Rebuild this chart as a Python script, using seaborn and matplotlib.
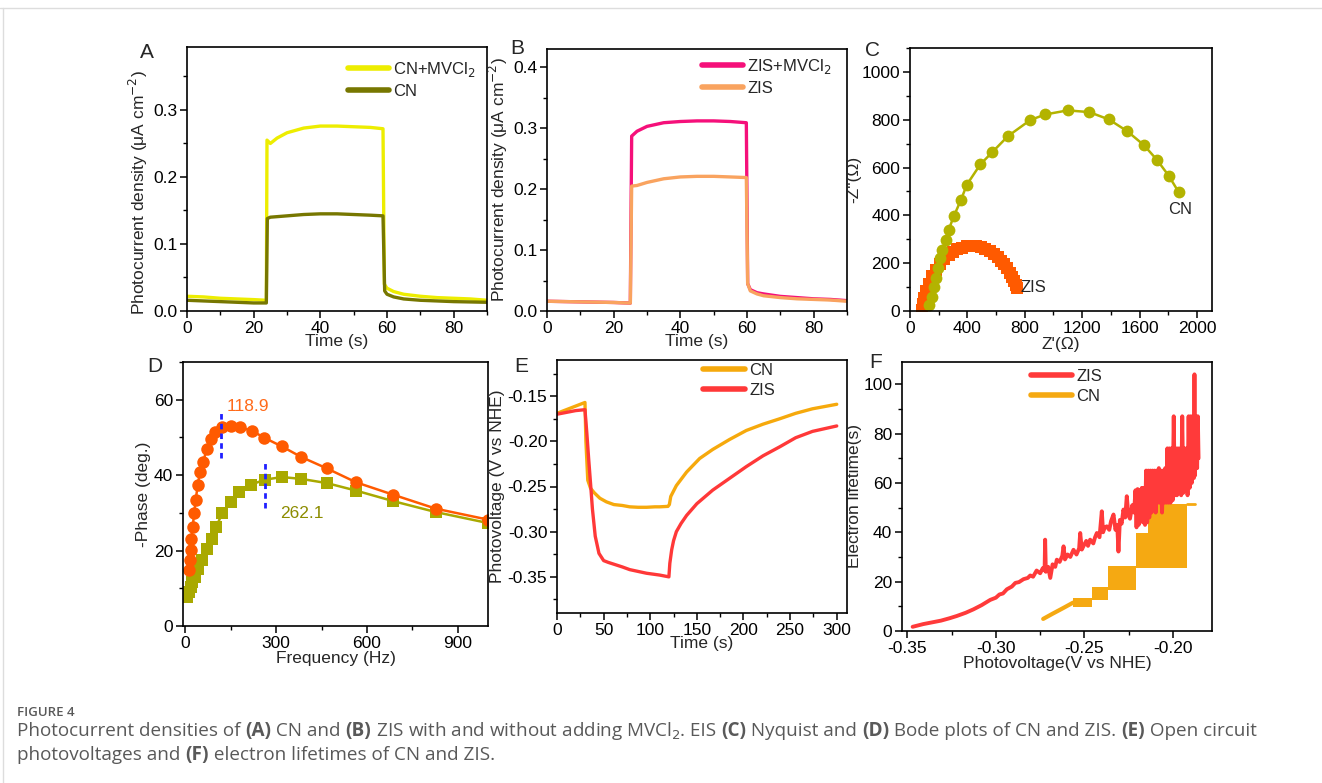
import matplotlib
matplotlib.use("Agg")
import matplotlib.pyplot as plt
import seaborn as sns
from matplotlib.ticker import MultipleLocator
from matplotlib.lines import Line2D

# === DATA: (A) photocurrent of CN ===
a_time_mv = [0, 5, 10, 15, 20, 23.8, 24.0, 25, 27, 30, 35, 40, 45, 50, 55, 58.8, 59.2, 60, 62, 65, 70, 75, 80, 85, 90]
a_cn_mv = [0.022, 0.021, 0.019, 0.018, 0.017, 0.016, 0.255, 0.250, 0.258, 0.266, 0.273, 0.276, 0.276,
           0.275, 0.274, 0.272, 0.040, 0.034, 0.029, 0.025, 0.022, 0.020, 0.019, 0.018, 0.016]
a_time_cn = [0, 5, 10, 15, 20, 23.8, 24.1, 25, 30, 35, 40, 45, 50, 55, 58.8, 59.3, 60, 62, 65, 70, 80, 90]
a_cn = [0.016, 0.015, 0.014, 0.013, 0.012, 0.012, 0.138, 0.140, 0.142, 0.144, 0.145, 0.145, 0.144,
        0.143, 0.142, 0.030, 0.025, 0.021, 0.018, 0.016, 0.014, 0.013]

# === DATA: (B) photocurrent of ZIS ===
b_time = [0, 10, 20, 25.0, 25.4, 27, 30, 35, 40, 45, 50, 55, 59.8, 60.2, 61, 63, 65, 70, 75, 80, 85, 90]
b_zis_mv = [0.016, 0.015, 0.014, 0.013, 0.287, 0.295, 0.303, 0.309, 0.311, 0.312, 0.312, 0.311, 0.309,
            0.045, 0.035, 0.030, 0.028, 0.024, 0.022, 0.020, 0.019, 0.017]
b_zis = [0.016, 0.015, 0.014, 0.013, 0.205, 0.206, 0.211, 0.217, 0.220, 0.221, 0.221, 0.220, 0.219,
         0.045, 0.033, 0.028, 0.025, 0.022, 0.020, 0.019, 0.018, 0.016]

# === DATA: (C) Nyquist ===
c_cn_re = [130, 150, 165, 180, 195, 210, 225, 254, 270, 305, 354, 397, 490, 573, 682, 839, 943, 1098,
           1249, 1387, 1514, 1630, 1723, 1803, 1873]
c_cn_im = [25, 60, 100, 140, 180, 220, 255, 295, 340, 396, 463, 529, 613, 664, 731, 799, 822, 839,
           832, 801, 752, 694, 631, 566, 497]
c_zis_re = [85, 88, 95, 110, 130, 155, 180, 210, 240, 270, 300, 330, 360, 395, 430, 462, 494, 526, 556,
            584, 610, 634, 656, 676, 694, 710, 724, 736, 746]
c_zis_im = [5, 30, 55, 85, 115, 145, 172, 197, 218, 235, 248, 258, 265, 270, 272, 271, 266, 259, 250,
            239, 226, 211, 195, 178, 160, 142, 124, 108, 95]

# === DATA: (D) Bode ===
d_zis_f = [13, 14, 17, 20, 24, 29, 34, 41, 48, 59, 70, 83, 98, 122, 150, 181, 219, 261, 319, 383, 467,
           564, 687, 828, 1000]
d_zis_ph = [14.8, 17.4, 20.1, 23.2, 26.3, 30.0, 33.5, 37.5, 40.8, 43.4, 47.0, 49.6, 51.4, 52.7, 53.1,
            52.7, 51.8, 49.9, 47.6, 44.8, 41.8, 38.1, 34.8, 31.1, 28.2]
d_cn_f = [6, 11, 17, 22, 31, 41, 56, 70, 87, 102, 122, 150, 178, 217, 263, 319, 383, 467, 564, 687,
          828, 1000]
d_cn_ph = [7.8, 9.1, 10.4, 11.7, 13.0, 15.2, 17.4, 20.3, 23.2, 26.3, 30.0, 32.9, 35.5, 37.5, 38.8,
           39.5, 39.0, 37.9, 35.9, 33.1, 30.2, 27.3]
d_peak_zis = 118.9
d_peak_cn = 262.1

# === DATA: (E) open circuit photovoltage ===
e_cn_t = [0, 10, 20, 30, 31, 33, 36, 40, 46, 53, 61, 70, 78, 87, 96, 105, 110, 119, 120.5, 122, 128,
          139, 153, 167, 185, 203, 221, 239, 256, 274, 300]
e_cn_v = [-0.169, -0.165, -0.161, -0.157, -0.200, -0.243, -0.252, -0.257, -0.263, -0.267, -0.270,
          -0.271, -0.2725, -0.273, -0.273, -0.2725, -0.2725, -0.272, -0.270, -0.261, -0.249, -0.234,
          -0.219, -0.209, -0.198, -0.188, -0.181, -0.175, -0.169, -0.164, -0.159]
e_zis_t = [0, 10, 20, 30, 32, 34, 36, 38, 41, 45, 50, 55, 61, 70, 78, 87, 96, 110, 120, 121, 123, 125,
           128, 133, 139, 150, 167, 185, 203, 221, 239, 256, 274, 300]
e_zis_v = [-0.170, -0.168, -0.166, -0.165, -0.191, -0.220, -0.247, -0.275, -0.305, -0.324, -0.332,
           -0.334, -0.336, -0.339, -0.342, -0.344, -0.346, -0.348, -0.350, -0.335, -0.320, -0.310,
           -0.300, -0.291, -0.282, -0.269, -0.254, -0.241, -0.228, -0.216, -0.206, -0.196, -0.189, -0.183]

# === DATA: (F) electron lifetime ===
f_zis_v = [-0.347, -0.341, -0.336, -0.331, -0.326, -0.322, -0.317, -0.3126, -0.308, -0.3032, -0.300,
           -0.298, -0.296, -0.2938, -0.291, -0.289, -0.287, -0.2844, -0.282, -0.2806, -0.279, -0.277,
           -0.275, -0.2735, -0.2725, -0.2722, -0.2718, -0.2705, -0.2693, -0.268, -0.2665, -0.2656,
           -0.264, -0.2625, -0.2618, -0.2610, -0.2595, -0.258, -0.2562, -0.2545, -0.2530, -0.2524,
           -0.2515, -0.2506, -0.249, -0.248, -0.2468, -0.245, -0.2440, -0.243, -0.2415, -0.2402,
           -0.2395, -0.2385, -0.2374, -0.236, -0.235, -0.2336, -0.2325, -0.2315, -0.2308, -0.2300,
           -0.229, -0.228, -0.227, -0.2261, -0.2252, -0.2243, -0.2230, -0.2220,
           -0.2212, -0.2206, -0.2200, -0.2194, -0.2188, -0.2182, -0.2176, -0.2170, -0.2164, -0.2158,
           -0.2152, -0.2146, -0.2140, -0.2134, -0.2128, -0.2122, -0.2116, -0.2110, -0.2104, -0.2098,
           -0.2092, -0.2086, -0.2080, -0.2074, -0.2068, -0.2062, -0.2056, -0.2050, -0.2044, -0.2038,
           -0.2032, -0.2026, -0.2020, -0.2014, -0.2008, -0.2002, -0.1996, -0.1990, -0.1984, -0.1978,
           -0.1972, -0.1966, -0.1960, -0.1954, -0.1948, -0.1942, -0.1936, -0.1930, -0.1924, -0.1918,
           -0.1912, -0.1906, -0.1900, -0.1894, -0.1888, -0.1882, -0.1879, -0.1876, -0.1870, -0.1864,
           -0.1860, -0.1856]
f_zis_tau = [1.7, 2.8, 3.5, 4.2, 5.2, 6.1, 7.4, 8.8, 10.5, 12.6, 13.5, 14.8, 15.2, 16.9, 18.0, 19.5,
             19.8, 21.0, 21.5, 22.5, 22.0, 24.5, 23.4, 25.5, 24.5, 37.0, 24.0, 26.0, 21.5, 27.0, 26.0,
             28.9, 28.0, 30.5, 34.3, 29.0, 31.0, 30.0, 32.9, 31.0, 33.5, 39.7, 33.0, 34.3, 36.5, 34.5,
             37.0, 35.5, 38.0, 39.7, 38.0, 48.5, 40.0, 42.0, 42.4, 41.0, 44.5, 47.2, 41.0, 43.0, 32.2,
             45.0, 43.5, 49.2, 46.0, 54.6, 47.0, 45.5, 51.0, 48.0,
             57.0, 42.0, 57.5, 43.0, 57.0, 45.0, 58.0, 44.0, 58.0, 43.0,
             65.0, 44.0, 65.0, 46.0, 65.0, 48.0, 65.0, 50.0, 65.0, 48.0,
             65.0, 52.0, 66.0, 52.0, 65.0, 48.0, 65.0, 52.0, 66.0, 52.0,
             74.0, 52.0, 74.0, 52.0, 74.0, 53.0, 87.0, 55.0, 74.0, 55.0,
             74.0, 56.0, 74.0, 55.0, 87.0, 56.0, 74.0, 57.0, 74.0, 55.0,
             87.0, 58.0, 87.0, 60.0, 87.0, 62.0, 104.0, 63.0, 87.0, 66.0,
             87.0, 70.0]
f_cn_line_v = [-0.2733, -0.268, -0.262, -0.2564]
f_cn_line_tau = [4.9, 7.0, 9.3, 11.5]
f_cn_step_left = [-0.2564, -0.2457, -0.2366, -0.2208, -0.2141]
f_cn_step_right = [-0.2457, -0.2366, -0.2208, -0.2141, -0.1921]
f_cn_step_low = [9.8, 12.6, 16.7, 25.6, 25.6]
f_cn_step_high = [13.4, 17.9, 26.4, 39.8, 51.6]
f_cn_tail_v = [-0.1921, -0.1876]
f_cn_tail_tau = [51.6, 51.6]

# === STYLE ===
sns.set_theme(style="ticks")
plt.rcParams['font.family'] = ['Liberation Sans', 'DejaVu Sans']
plt.rcParams['axes.linewidth'] = 1.2
plt.rcParams['xtick.major.width'] = 1.1
plt.rcParams['ytick.major.width'] = 1.1
plt.rcParams['xtick.minor.width'] = 1.0
plt.rcParams['ytick.minor.width'] = 1.0
plt.rcParams['xtick.major.size'] = 5
plt.rcParams['ytick.major.size'] = 5
plt.rcParams['xtick.minor.size'] = 3
plt.rcParams['ytick.minor.size'] = 3
plt.rcParams['xtick.labelsize'] = 12.5
plt.rcParams['ytick.labelsize'] = 12.5

W, H = 1322, 783
fig = plt.figure(figsize=(W / 100, H / 100), dpi=100)


def px_axes(left, top, right, bottom):
    return fig.add_axes([left / W, 1 - bottom / H, (right - left) / W, (bottom - top) / H])


def style_axes(ax, xmaj, xmin, ymaj, ymin):
    ax.xaxis.set_major_locator(MultipleLocator(xmaj))
    ax.xaxis.set_minor_locator(MultipleLocator(xmin))
    ax.yaxis.set_major_locator(MultipleLocator(ymaj))
    ax.yaxis.set_minor_locator(MultipleLocator(ymin))
    ax.tick_params(which='both', direction='out', top=False, right=False, colors='black', pad=2)
    for sp in ax.spines.values():
        sp.set_visible(True)
        sp.set_color('black')


def add_legend(ax, x, y, handles):
    ax.legend(handles=handles, loc='upper left', bbox_to_anchor=(x, y), frameon=False,
              fontsize=12, handlelength=2.5, handletextpad=0.25, labelspacing=0.3,
              borderpad=0, borderaxespad=0)


LAB = 12.5

# === PANEL A ===
axA = px_axes(187, 47, 487, 311)
sns.lineplot(x=a_time_mv, y=a_cn_mv, ax=axA, color='#eded00', lw=2.4, sort=False, estimator=None)
sns.lineplot(x=a_time_cn, y=a_cn, ax=axA, color='#777700', lw=2.4, sort=False, estimator=None)
axA.set_xlim(0, 90)
axA.set_ylim(0, 0.394)
style_axes(axA, 20, 10, 0.1, 0.05)
axA.set_yticks([0.0, 0.1, 0.2, 0.3])
axA.set_xticks([0, 20, 40, 60, 80])
axA.set_xlabel('Time (s)', fontsize=LAB, labelpad=-1)
axA.set_ylabel('Photocurrent density (μA cm$^{-2}$)', fontsize=LAB)
axA.yaxis.set_label_coords(-0.125, 0.45)
add_legend(axA, 0.535, 0.95, [Line2D([], [], color='#eded00', lw=4, label='CN+MVCl$_2$'),
                              Line2D([], [], color='#777700', lw=4, label='CN')])

# === PANEL B ===
axB = px_axes(547, 49, 847, 311)
sns.lineplot(x=b_time, y=b_zis_mv, ax=axB, color='#f5107a', lw=2.4, sort=False, estimator=None)
sns.lineplot(x=b_time, y=b_zis, ax=axB, color='#f9a35f', lw=2.4, sort=False, estimator=None)
axB.set_xlim(0, 90)
axB.set_ylim(0, 0.43)
style_axes(axB, 20, 10, 0.1, 0.05)
axB.set_yticks([0.0, 0.1, 0.2, 0.3, 0.4])
axB.set_xticks([0, 20, 40, 60, 80])
axB.set_xlabel('Time (s)', fontsize=LAB, labelpad=-1)
axB.set_ylabel('Photocurrent density (μA cm$^{-2}$)', fontsize=LAB, labelpad=2)
add_legend(axB, 0.515, 0.97, [Line2D([], [], color='#f5107a', lw=4, label='ZIS+MVCl$_2$'),
                              Line2D([], [], color='#f9a35f', lw=4, label='ZIS')])

# === PANEL C ===
axC = px_axes(910, 48, 1212, 311)
sns.lineplot(x=c_zis_re, y=c_zis_im, ax=axC, color='#ff5a00', lw=1.5, marker='s', markersize=8,
             markeredgewidth=0, sort=False, estimator=None)
sns.lineplot(x=c_cn_re, y=c_cn_im, ax=axC, color='#b3b300', lw=1.8, marker='o', markersize=8.5,
             markeredgewidth=0, sort=False, estimator=None)
axC.set_xlim(0, 2105)
axC.set_ylim(0, 1100)
style_axes(axC, 400, 200, 200, 100)
axC.set_yticks([0, 200, 400, 600, 800, 1000])
axC.set_xlabel("Z'(Ω)", fontsize=LAB, labelpad=1)
axC.set_ylabel('-Z"(Ω)', fontsize=LAB, labelpad=0)
axC.text(1800, 424, 'CN', fontsize=12, va='center', ha='left')
axC.text(770, 100, 'ZIS', fontsize=12, va='center', ha='left')

# === PANEL D ===
axD = px_axes(183, 362, 488, 626)
sns.lineplot(x=d_cn_f, y=d_cn_ph, ax=axD, color='#a9a900', lw=1.8, marker='s', markersize=8.5,
             markeredgewidth=0, sort=False, estimator=None)
sns.lineplot(x=d_zis_f, y=d_zis_ph, ax=axD, color='#ff5a00', lw=1.8, marker='o', markersize=9,
             markeredgewidth=0, sort=False, estimator=None)
axD.plot([d_peak_zis, d_peak_zis], [44.5, 57], color='#1f1fff', lw=2, ls=(0, (2, 1.5)))
axD.plot([d_peak_cn, d_peak_cn], [31.4, 43.9], color='#1f1fff', lw=2, ls=(0, (2, 1.5)))
axD.text(d_peak_zis + 17, 58.2, f'{d_peak_zis}', color='#ff6a1a', fontsize=12.5, va='center')
axD.text(d_peak_cn + 50, 29.7, f'{d_peak_cn}', color='#8c8c00', fontsize=12.5, va='center')
axD.set_xlim(-8, 1000)
axD.set_ylim(0, 70)
style_axes(axD, 300, 150, 20, 10)
axD.set_xticks([0, 300, 600, 900])
axD.set_yticks([0, 20, 40, 60])
axD.set_xlabel('Frequency (Hz)', fontsize=LAB, labelpad=0)
axD.set_ylabel('-Phase (deg.)', fontsize=LAB, labelpad=2)

# === PANEL E ===
axE = px_axes(557, 360, 847, 613)
sns.lineplot(x=e_cn_t, y=e_cn_v, ax=axE, color='#f6a90c', lw=2.4, sort=False, estimator=None)
sns.lineplot(x=e_zis_t, y=e_zis_v, ax=axE, color='#ff3838', lw=2.4, sort=False, estimator=None)
axE.set_xlim(0, 311)
axE.set_ylim(-0.39, -0.11)
style_axes(axE, 50, 25, 0.05, 0.025)
axE.set_yticks([-0.35, -0.30, -0.25, -0.20, -0.15])
axE.set_yticklabels(['-0.35', '-0.30', '-0.25', '-0.20', '-0.15'])
axE.set_xticks([0, 50, 100, 150, 200, 250, 300])
axE.set_xlabel('Time (s)', fontsize=LAB, labelpad=-1)
axE.set_ylabel('Photovoltage (V vs NHE)', fontsize=LAB, labelpad=2)
add_legend(axE, 0.505, 0.99, [Line2D([], [], color='#f6a90c', lw=4, label='CN'),
                              Line2D([], [], color='#ff3838', lw=4, label='ZIS')])

# === PANEL F ===
axF = px_axes(902, 362, 1212, 631)
for xl, xr, lo, hi in zip(f_cn_step_left, f_cn_step_right, f_cn_step_low, f_cn_step_high):
    axF.fill_between([xl, xr], [lo, lo], [hi, hi], color='#f5a912', lw=0)
sns.lineplot(x=f_cn_line_v, y=f_cn_line_tau, ax=axF, color='#f5a912', lw=3, sort=False, estimator=None)
sns.lineplot(x=f_cn_tail_v, y=f_cn_tail_tau, ax=axF, color='#f5a912', lw=2, sort=False, estimator=None)
sns.lineplot(x=f_zis_v, y=f_zis_tau, ax=axF, color='#ff3a3a', lw=2.8, sort=False, estimator=None)
axF.set_xlim(-0.353, -0.178)
axF.set_ylim(0, 109)
style_axes(axF, 0.05, 0.025, 20, 10)
axF.set_xticks([-0.35, -0.30, -0.25, -0.20])
axF.set_xticklabels(['-0.35', '-0.30', '-0.25', '-0.20'])
axF.set_yticks([0, 20, 40, 60, 80, 100])
axF.set_xlabel('Photovoltage(V vs NHE)', fontsize=LAB, labelpad=0)
axF.set_ylabel('Electron lifetime(s)', fontsize=LAB, labelpad=1)
add_legend(axF, 0.415, 0.975, [Line2D([], [], color='#ff3a3a', lw=4, label='ZIS'),
                               Line2D([], [], color='#f5a912', lw=4, label='CN')])

# === PANEL LETTERS ===
for letter, (lx, ly) in zip('ABCDEF', [(147, 53), (517, 48), (872, 50), (155, 367), (521, 367), (876, 362)]):
    fig.text(lx / W, 1 - ly / H, letter, fontsize=15, ha='center', va='center')

# === FRAME LINES ===
fig.add_artist(Line2D([0, 1], [1 - 8 / H, 1 - 8 / H], color='#dddddd', lw=1))
fig.add_artist(Line2D([3 / W, 3 / W], [0, 1 - 8 / H], color='#dddddd', lw=1))

# === CAPTION ===
CAP = '#595959'
fig.text(17 / W, 1 - 712 / H, 'FIGURE 4', fontsize=9.5, color=CAP, family='Open Sans',
         fontweight='semibold', va='center')

renderer = fig.canvas.get_renderer()


def rich_line(x_px, y_px, parts):
    x = x_px / W
    for s, bold in parts:
        t = fig.text(x, 1 - y_px / H, s, fontsize=13.6, color=CAP, family='Open Sans',
                     fontweight='bold' if bold else 'normal', va='center')
        x += t.get_window_extent(renderer=renderer).width / W


rich_line(17, 731, [('Photocurrent densities of ', False), ('(A)', True), (' CN and ', False),
                    ('(B)', True), (' ZIS with and without adding MVCl$_2$', False), ('. EIS ', False),
                    ('(C)', True), (' Nyquist and ', False), ('(D)', True),
                    (' Bode plots of CN and ZIS. ', False), ('(E)', True), (' Open circuit', False)])
rich_line(17, 755, [('photovoltages and ', False), ('(F)', True),
                    (' electron lifetimes of CN and ZIS.', False)])

plt.savefig('out.png', dpi=100)
plt.close()
